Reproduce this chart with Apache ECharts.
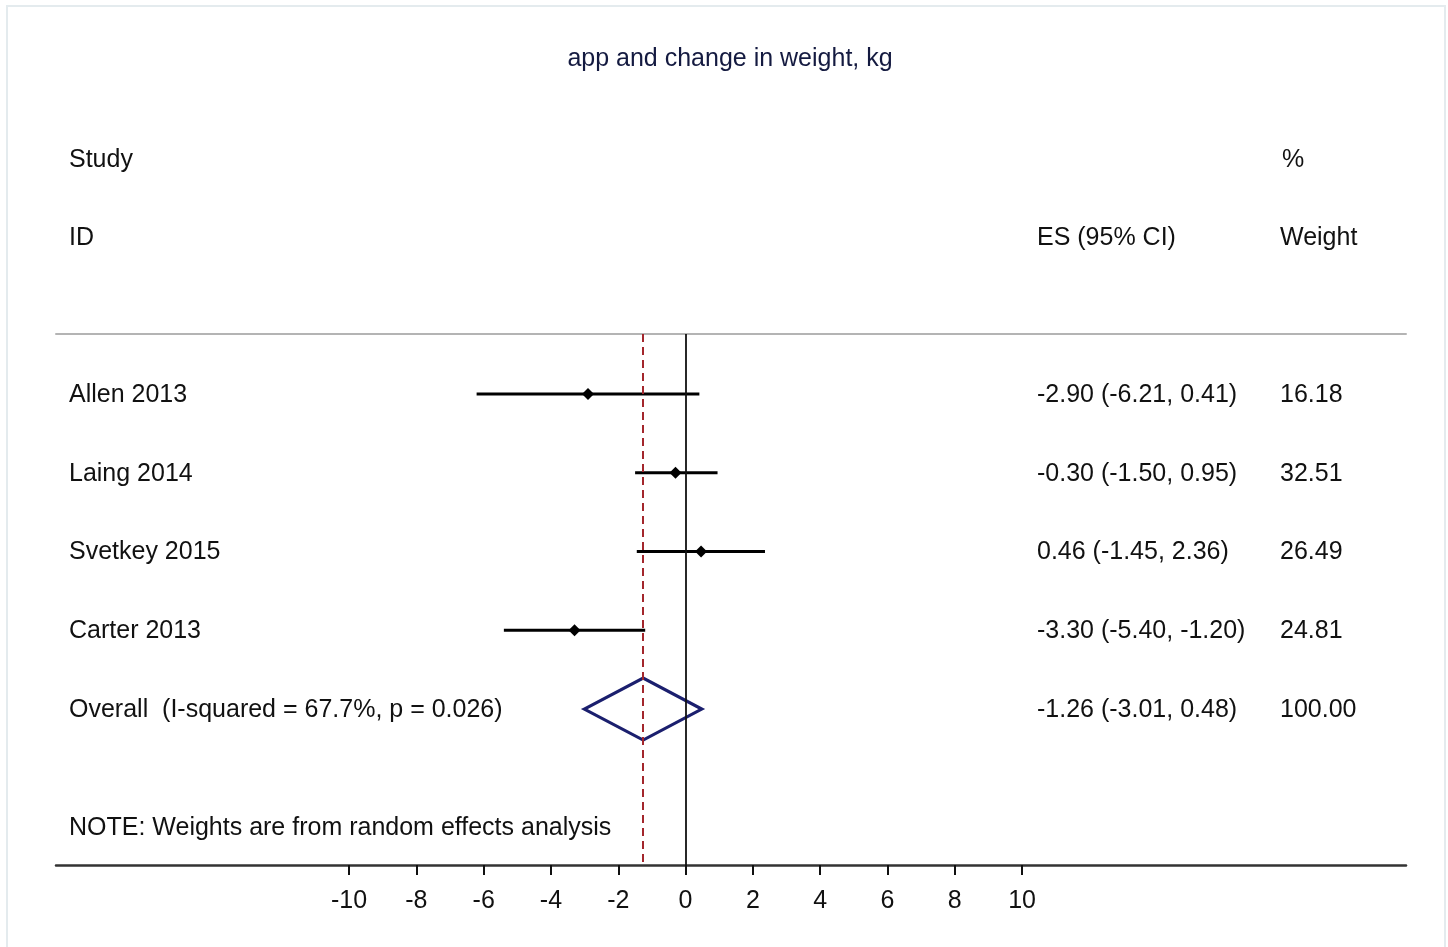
<!DOCTYPE html>
<html>
<head>
<meta charset="utf-8">
<script src="https://cdn.jsdelivr.net/npm/echarts@6/dist/echarts.min.js"></script>
<style>
html,body{margin:0;padding:0;background:#fff;}
#chart{width:1448px;height:947px;}
</style>
</head>
<body>
<div id="chart"></div>
<script>
// ---- data ----
var titleText = 'app and change in weight, kg';
var studies = ['Allen 2013', 'Laing 2014', 'Svetkey 2015', 'Carter 2013'];
var es = [-2.90, -0.30, 0.46, -3.30];
var ciLow = [-6.21, -1.50, -1.45, -5.40];
var ciHigh = [0.41, 0.95, 2.36, -1.20];
var weights = [16.18, 32.51, 26.49, 24.81];
var overallLabel = 'Overall  (I-squared = 67.7%, p = 0.026)';
var overallEs = -1.26;
var overallLow = -3.01;
var overallHigh = 0.48;
var overallWeight = 100.00;
var xTicks = [-10, -8, -6, -4, -2, 0, 2, 4, 6, 8, 10];
var noteText = 'NOTE: Weights are from random effects analysis';

// ---- layout ----
var FONT = '"Liberation Sans", Arial, sans-serif';
var FS = 25;
var TXT = '#111111';
var colName = 69, colES = 1037, colW = 1280;
var DY = 1;

var chart = echarts.init(document.getElementById('chart'), null, {renderer: 'canvas'});

var studyRows = studies.map(function (s, i) {
  return [i, ciLow[i], es[i], ciHigh[i]];
});
var overallRow = studies.length;

var tableRows = studies.map(function (s, i) {
  return {
    value: [0, i],
    name: s,
    esText: es[i].toFixed(2) + ' (' + ciLow[i].toFixed(2) + ', ' + ciHigh[i].toFixed(2) + ')',
    wText: weights[i].toFixed(2)
  };
});
tableRows.push({
  value: [0, overallRow],
  name: overallLabel,
  esText: overallEs.toFixed(2) + ' (' + overallLow.toFixed(2) + ', ' + overallHigh.toFixed(2) + ')',
  wText: overallWeight.toFixed(2)
});

function gtext(x, y, s, color, align) {
  return {type: 'text', x: x, y: y + DY,
    style: {text: s, font: FS + 'px ' + FONT, fill: color || TXT, textAlign: align || 'left', textVerticalAlign: 'middle'}};
}

var option = {
  backgroundColor: '#ffffff',
  animation: false,
  grid: {left: 56, right: 42, top: 334, bottom: 82, containLabel: false},
  xAxis: [{
    type: 'value', position: 'bottom',
    min: -18.71, max: 21.41,
    axisLine: {show: true, onZero: false, lineStyle: {color: '#333333', width: 2.5}},
    axisTick: {show: true, customValues: xTicks, length: 10, lineStyle: {color: '#111', width: 2}},
    axisLabel: {show: true, customValues: xTicks, margin: 24, fontSize: FS, fontFamily: FONT, color: TXT},
    splitLine: {show: false}
  }, {
    type: 'value', position: 'top',
    min: -18.71, max: 21.41,
    axisLine: {show: true, onZero: false, lineStyle: {color: '#b4b4b4', width: 2}},
    axisTick: {show: false}, axisLabel: {show: false}, splitLine: {show: false}
  }],
  yAxis: {
    type: 'value', inverse: true, min: -0.762, max: 5.98,
    show: false
  },
  graphic: [
    {type: 'rect', shape: {x: 7, y: 6, width: 1438, height: 945},
      style: {fill: 'none', stroke: '#e4ebee', lineWidth: 2}, silent: true},
    gtext(730, 58, titleText, '#141a40', 'center'),
    gtext(colName, 159, 'Study'),
    gtext(colName, 237, 'ID'),
    gtext(colES, 237, 'ES (95% CI)'),
    gtext(colW + 2, 159, '%'),
    gtext(colW, 237, 'Weight'),
    gtext(colName, 827, noteText)
  ],
  series: [
    {
      // reference lines
      type: 'line', data: [], silent: true,
      markLine: {
        symbol: ['none', 'none'], silent: true, label: {show: false},
        data: [
          {xAxis: 0, lineStyle: {color: '#111111', width: 1.8, type: 'solid'}},
          {xAxis: overallEs, lineStyle: {color: '#a3262c', width: 2, type: [8, 5]}}
        ]
      }
    },
    {
      // study CIs and point estimates
      type: 'custom',
      data: studyRows,
      encode: {x: [1, 2, 3], y: 0},
      renderItem: function (params, api) {
        var row = api.value(0);
        var a = api.coord([api.value(1), row]);
        var m = api.coord([api.value(2), row]);
        var b = api.coord([api.value(3), row]);
        var d = 6;
        return {
          type: 'group',
          children: [
            {type: 'line', shape: {x1: a[0], y1: a[1], x2: b[0], y2: b[1]},
              style: {stroke: '#000', lineWidth: 3}},
            {type: 'polygon', shape: {points: [[m[0] - d, m[1]], [m[0], m[1] - d], [m[0] + d, m[1]], [m[0], m[1] + d]]},
              style: {fill: '#000'}}
          ]
        };
      }
    },
    {
      // overall diamond
      type: 'custom',
      data: [[overallRow, overallLow, overallEs, overallHigh]],
      encode: {x: [1, 2, 3], y: 0},
      renderItem: function (params, api) {
        var row = api.value(0);
        var a = api.coord([api.value(1), row]);
        var m = api.coord([api.value(2), row]);
        var b = api.coord([api.value(3), row]);
        var h = 31;
        return {
          type: 'polygon',
          shape: {points: [[a[0], a[1]], [m[0], m[1] - h], [b[0], b[1]], [m[0], m[1] + h]]},
          style: {fill: 'none', stroke: '#1b1f6e', lineWidth: 3.2, lineJoin: 'miter'}
        };
      }
    },
    {
      // table text
      type: 'custom',
      data: tableRows,
      renderItem: function (params, api) {
        var item = tableRows[params.dataIndex];
        var y = api.coord([0, api.value(1)])[1] + DY;
        var mk = function (x, s) {
          return {type: 'text', x: x, y: y,
            style: {text: s, font: FS + 'px ' + FONT, fill: TXT, textAlign: 'left', textVerticalAlign: 'middle'}};
        };
        return {type: 'group', children: [mk(colName, item.name), mk(colES, item.esText), mk(colW, item.wText)]};
      }
    }
  ]
};
chart.setOption(option);
</script>
</body>
</html>
